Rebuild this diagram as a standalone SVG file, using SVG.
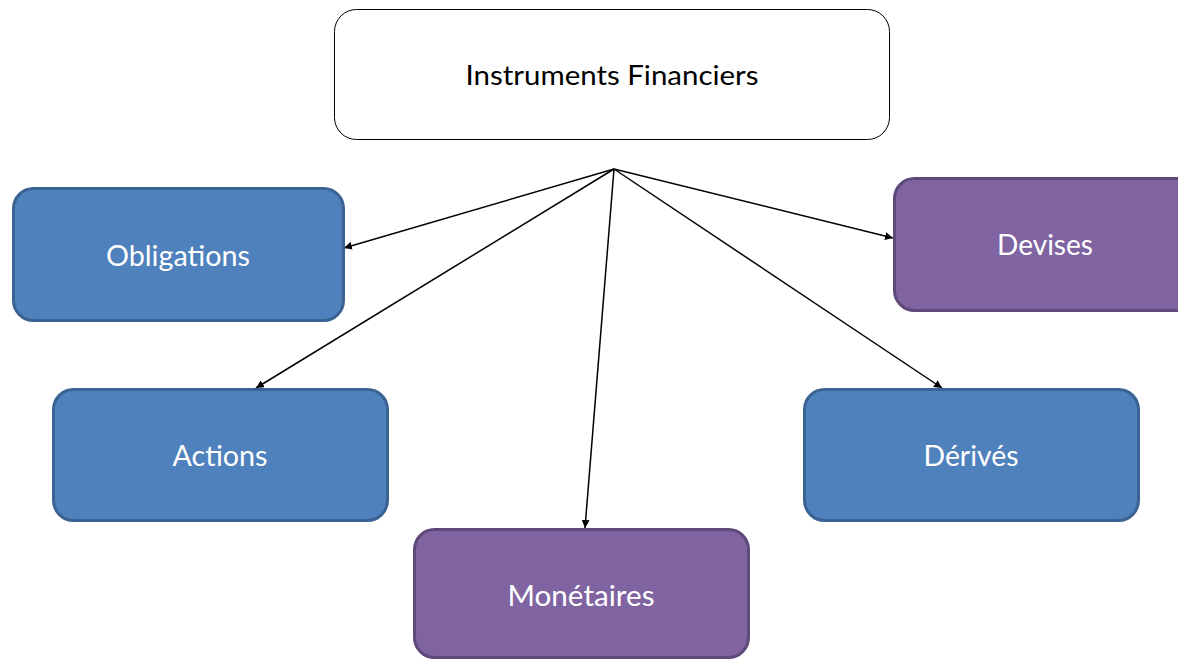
<svg xmlns="http://www.w3.org/2000/svg" width="1178" height="659" viewBox="0 0 1178 659">
<defs>
<style>
.blue{fill:#4F81BD;stroke:#3A6293;stroke-width:3}
.purple{fill:#8064A2;stroke:#5E4A7A;stroke-width:3}
.lbl{font-family:Lato,"Open Sans","Liberation Sans",sans-serif;font-size:28px;fill:#FFFFFF;text-anchor:middle}
.top{font-family:Lato,"Open Sans","Liberation Sans",sans-serif;font-size:26px;fill:#000000;text-anchor:middle}
.conn{stroke:#000;stroke-width:1.5;fill:none;marker-end:url(#arr)}
</style>
<marker id="arr" viewBox="0 0 10 10" refX="10" refY="5" markerWidth="8" markerHeight="8" markerUnits="userSpaceOnUse" orient="auto">
<path d="M0,0 L10,5 L0,10 z" fill="#000"/>
</marker>
</defs>
<rect width="1178" height="659" fill="#FFFFFF"/>
<g id="connectors">
<line class="conn" x1="614" y1="169" x2="344" y2="248"/>
<line class="conn" x1="614" y1="169" x2="256" y2="388"/>
<line class="conn" x1="614" y1="169" x2="585" y2="528"/>
<line class="conn" x1="614" y1="169" x2="942" y2="388"/>
<line class="conn" x1="614" y1="169" x2="893" y2="238"/>
</g>
<g id="instruments">
<rect x="334.5" y="9.5" width="555" height="130" rx="22" fill="#FFFFFF" stroke="#000" stroke-width="1"/>
<text class="top" x="612" y="85" textLength="293" lengthAdjust="spacingAndGlyphs">Instruments Financiers</text>
</g>
<g id="obligations">
<rect class="blue" x="13.5" y="188.5" width="330" height="132" rx="20"/>
<text class="lbl" x="178" y="266" textLength="144" lengthAdjust="spacingAndGlyphs">Obligations</text>
</g>
<g id="actions">
<rect class="blue" x="53.5" y="389.5" width="334" height="131" rx="20"/>
<text class="lbl" x="220" y="466" textLength="95" lengthAdjust="spacingAndGlyphs">Actions</text>
</g>
<g id="monetaires">
<rect class="purple" x="414.5" y="529.5" width="334" height="128" rx="20"/>
<text class="lbl" x="581" y="606" textLength="147" lengthAdjust="spacingAndGlyphs">Monétaires</text>
</g>
<g id="derives">
<rect class="blue" x="804.5" y="389.5" width="334" height="131" rx="20"/>
<text class="lbl" x="971" y="466" textLength="95" lengthAdjust="spacingAndGlyphs">Dérivés</text>
</g>
<g id="devises">
<rect class="purple" x="894.5" y="178.5" width="320" height="132" rx="20"/>
<text class="lbl" x="1045" y="255" textLength="96" lengthAdjust="spacingAndGlyphs">Devises</text>
</g>
</svg>
